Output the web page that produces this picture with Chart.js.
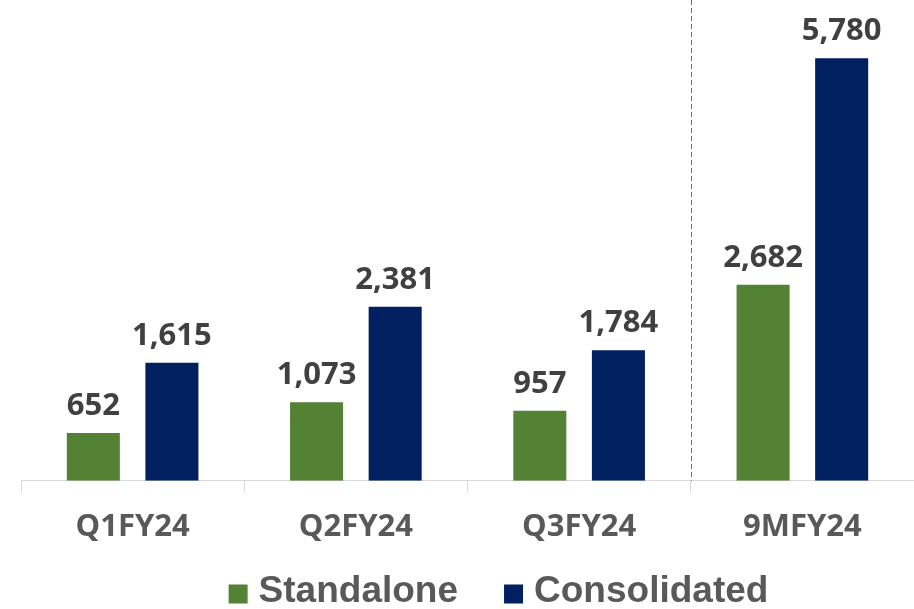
<!DOCTYPE html>
<html>
<head>
<meta charset="utf-8">
<script src="https://cdn.jsdelivr.net/npm/chart.js@4"></script>
<style>
  html, body { margin: 0; padding: 0; background: #ffffff; }
  #wrap { width: 914px; height: 609px; }
</style>
</head>
<body>
<div id="wrap"><canvas id="salesGraph"></canvas></div>
<script>
// data
const periods = ["Q1FY24", "Q2FY24", "Q3FY24", "9MFY24"];
const standalone = [652, 1073, 957, 2682];
const consolidated = [1615, 2381, 1784, 5780];
const seriesNames = ["Standalone", "Consolidated"];
const yMax = 6575;

// value above each bar, dashed separator before the 9M column, and the legend
const labelsPlugin = {
    id: "valueLabels",
    afterDatasetsDraw(chart) {
        const ctx = chart.ctx;
        const area = chart.chartArea;
        const xScale = chart.scales.x;
        const sepX = (xScale.getPixelForValue(2) + xScale.getPixelForValue(3)) / 2;
        ctx.save();
        ctx.strokeStyle = "#4472c4";
        ctx.lineWidth = 1;
        ctx.setLineDash([5, 3]);
        ctx.beginPath();
        ctx.moveTo(Math.round(sepX) + 0.5, 0);
        ctx.lineTo(Math.round(sepX) + 0.5, area.bottom);
        ctx.stroke();
        ctx.setLineDash([]);

        ctx.fillStyle = "#404040";
        ctx.font = "bold 31px 'Open Sans'";
        ctx.textAlign = "center";
        ctx.textBaseline = "alphabetic";
        chart.data.datasets.forEach((ds, i) => {
            chart.getDatasetMeta(i).data.forEach((bar, j) => {
                ctx.fillText(ds.data[j].toLocaleString("en-US"), bar.x, bar.y - 18);
            });
        });

        // legend
        ctx.font = "bold 37px 'Liberation Sans', Arial";
        ctx.textAlign = "left";
        ctx.textBaseline = "middle";
        const box = 19, gap = 11, itemGap = 46, midY = 592;
        const items = chart.data.datasets.map(ds => ({
            text: ds.label,
            color: ds.backgroundColor,
            w: box + gap + ctx.measureText(ds.label).width,
        }));
        const total = items.reduce((s, it) => s + it.w, 0) + itemGap * (items.length - 1);
        let x = 498.5 - total / 2;
        items.forEach(it => {
            ctx.fillStyle = it.color;
            ctx.fillRect(x, midY - box / 2 + 2, box, box);
            ctx.fillStyle = "#595959";
            ctx.fillText(it.text, x + box + gap, midY);
            x += it.w + itemGap;
        });
        ctx.restore();
    },
};

const config = {
    type: "bar",
    data: {
        labels: periods,
        datasets: [
            { label: seriesNames[0], data: standalone, backgroundColor: "#548235" },
            { label: seriesNames[1], data: consolidated, backgroundColor: "#002060" },
        ],
    },
    options: {
        responsive: true,
        maintainAspectRatio: false,
        animation: false,
        categoryPercentage: 0.704,
        barPercentage: 0.675,
        layout: { padding: { left: 21, right: 0, top: 0, bottom: 47 } },
        plugins: {
            tooltip: { enabled: false },
            legend: { display: false },
        },
        scales: {
            x: {
                grid: {
                    display: true,
                    drawOnChartArea: false,
                    drawTicks: true,
                    tickLength: 12,
                    color: "#d9d9d9",
                    offset: true,
                },
                border: { color: "#d9d9d9", width: 1 },
                ticks: {
                    color: "#595959",
                    font: { family: "'Open Sans'", weight: "bold", size: 31 },
                    padding: 16,
                },
            },
            y: {
                display: false,
                min: 0,
                max: yMax,
            },
        },
    },
    plugins: [labelsPlugin],
};

new Chart("salesGraph", config);
</script>
</body>
</html>
